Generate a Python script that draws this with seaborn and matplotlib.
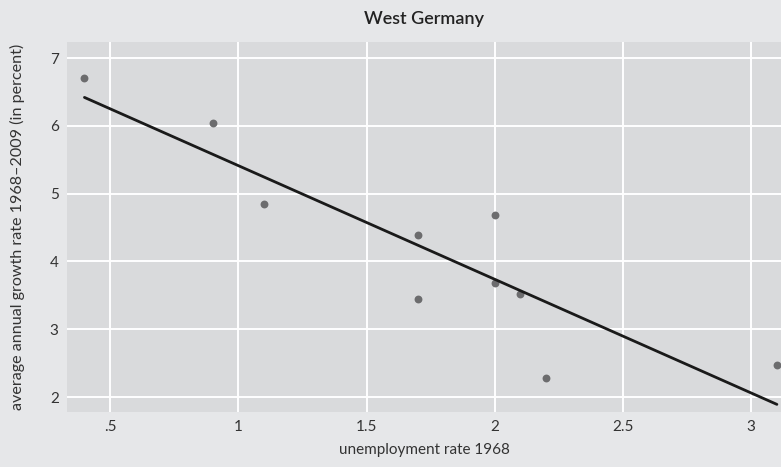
import matplotlib
matplotlib.use("Agg")
import matplotlib.pyplot as plt
import seaborn as sns
import pandas as pd

# unemployment rate 1968 vs average annual growth 1968-2009, West Germany
unemployment = [0.4, 0.9, 1.1, 1.7, 1.7, 2.0, 2.0, 2.1, 2.2, 3.1]
growth = [6.70, 6.04, 4.85, 4.39, 3.45, 4.68, 3.68, 3.52, 2.28, 2.47]
x_ticks = [0.5, 1, 1.5, 2, 2.5, 3]
x_labels = [".5", "1", "1.5", "2", "2.5", "3"]
y_ticks = [2, 3, 4, 5, 6, 7]

df = pd.DataFrame({"unemp": unemployment, "growth": growth})

sns.set_theme(style="darkgrid", rc={
    "axes.facecolor": "#d9dadc",
    "figure.facecolor": "#e6e7e9",
    "grid.color": "white",
    "grid.linewidth": 1.4,
})
plt.rcParams["font.family"] = ["Lato", "DejaVu Sans"]

fig = plt.figure(figsize=(7.81, 4.67), dpi=100)
ax = fig.add_axes([0.0858, 0.1178, 0.9142, 0.7922])

sns.regplot(data=df, x="unemp", y="growth", ax=ax, ci=None, truncate=True,
            scatter_kws={"s": 32, "color": "#6c6c6e", "linewidths": 0, "alpha": 1},
            line_kws={"color": "#1a1a1a", "linewidth": 2})

ax.set_xlim(0.332, 3.116)
ax.set_ylim(1.78, 7.236)
ax.set_xticks(x_ticks)
ax.set_xticklabels(x_labels)
ax.set_yticks(y_ticks)
ax.tick_params(axis="both", length=0, labelsize=11, colors="#333333", pad=6)
for s in ax.spines.values():
    s.set_visible(False)

ax.set_xlabel("unemployment rate 1968", fontsize=11, color="#333333", labelpad=6)
ax.set_ylabel("average annual growth rate 1968\u20132009 (in percent)", fontsize=11.6,
              color="#333333", labelpad=18)
ax.set_title("West Germany", fontsize=13, fontweight="semibold", color="#222222", pad=13)

fig.savefig("out.png", dpi=100)
